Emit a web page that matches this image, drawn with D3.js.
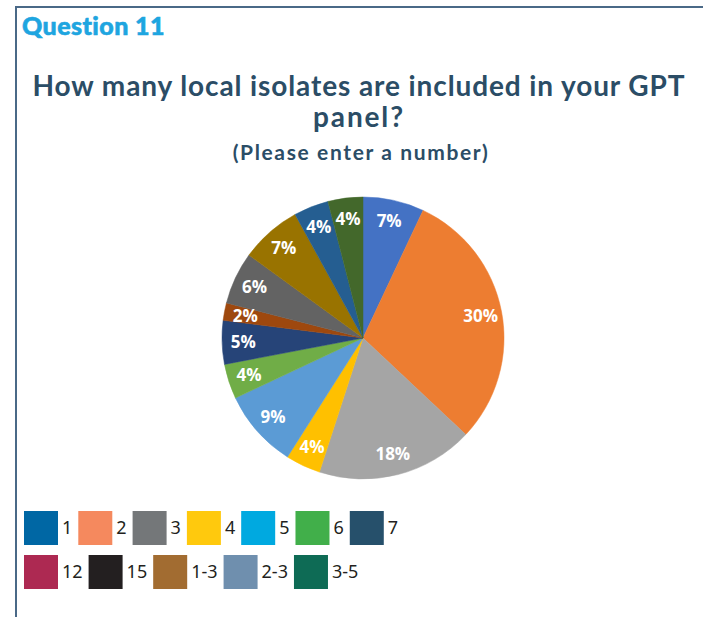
<!DOCTYPE html>
<html>
<head>
<meta charset="utf-8">
<script src="https://cdn.jsdelivr.net/npm/d3@7/dist/d3.min.js"></script>
<style>
  html, body { margin: 0; padding: 0; background: #ffffff; }
  svg { display: block; }
</style>
</head>
<body>
<script>
// Survey answers: number of local isolates in the GPT panel
const categories = ["1", "2", "3", "4", "5", "6", "7", "12", "15", "1-3", "2-3", "3-5"];
const shares = [7, 30, 18, 4, 9, 4, 5, 2, 6, 7, 4, 4];
const sliceColors = ["#4472C4", "#ED7D31", "#A5A5A5", "#FFC000", "#5B9BD5", "#70AD47",
                     "#264478", "#9E480E", "#636363", "#997300", "#255E91", "#43682B"];
const legendColors = ["#0067A4", "#F5895E", "#747779", "#FFC90D", "#00A9E0", "#41AF4A",
                      "#26506B", "#AD2952", "#231F20", "#A26C31", "#6F8FAE", "#0E6B55"];
const legendRows = [["1", "2", "3", "4", "5", "6", "7"], ["12", "15", "1-3", "2-3", "3-5"]];

const W = 703, H = 617;
const svg = d3.select("body").append("svg").attr("width", W).attr("height", H);

// Panel frame (top and left rules)
const frameColor = "#4A6987";
svg.append("line").attr("x1", 16).attr("y1", 7).attr("x2", W).attr("y2", 7)
  .attr("stroke", frameColor).attr("stroke-width", 2);
svg.append("line").attr("x1", 16).attr("y1", 6).attr("x2", 16).attr("y2", H)
  .attr("stroke", frameColor).attr("stroke-width", 2);

// Spread a text's letters so that it spans the given width
function fitWidth(sel, target) {
  const w = sel.node().getComputedTextLength();
  const n = sel.text().length;
  if (n > 1) sel.attr("letter-spacing", (target - w) / (n - 1));
}

const heading = svg.append("text")
  .attr("x", 22).attr("y", 35)
  .attr("font-family", "Lato, 'Open Sans', sans-serif")
  .attr("font-weight", 900).attr("font-size", 25)
  .attr("fill", "#1EA5E0")
  .attr("stroke", "#1EA5E0").attr("stroke-width", 0.6)
  .text("Question 11");
fitWidth(heading, 143);

const titleColor = "#2B4D66";
const t1 = svg.append("text")
  .attr("x", 359).attr("y", 96).attr("text-anchor", "middle")
  .attr("font-family", "Lato, 'Open Sans', sans-serif")
  .attr("font-weight", 700).attr("font-size", 28)
  .attr("fill", titleColor)
  .text("How many local isolates are included in your GPT");
fitWidth(t1, 652);
const t2 = svg.append("text")
  .attr("x", 359).attr("y", 127).attr("text-anchor", "middle")
  .attr("font-family", "Lato, 'Open Sans', sans-serif")
  .attr("font-weight", 700).attr("font-size", 28)
  .attr("fill", titleColor)
  .text("panel?");
fitWidth(t2, 90);
const sub = svg.append("text")
  .attr("x", 361).attr("y", 160).attr("text-anchor", "middle")
  .attr("font-family", "Lato, 'Open Sans', sans-serif")
  .attr("font-weight", 700).attr("font-size", 21)
  .attr("fill", titleColor)
  .text("(Please enter a number)");
fitWidth(sub, 255);

// Pie
const data = categories.map((c, i) => ({ category: c, value: shares[i], color: sliceColors[i] }));
const cx = 363, cy = 338, radius = 141;
const pie = d3.pie().sort(null).value(d => d.value);
const arcs = pie(data);
const arc = d3.arc().innerRadius(0).outerRadius(radius);
const labelArc = d3.arc().innerRadius(radius * 0.85).outerRadius(radius * 0.85);

const g = svg.append("g").attr("transform", `translate(${cx},${cy})`);
g.selectAll("path.slice").data(arcs).join("path")
  .attr("class", "slice")
  .attr("d", arc)
  .attr("fill", d => d.data.color)
  .attr("stroke", d => d.data.color)
  .attr("stroke-width", 0.5);

g.selectAll("text.value").data(arcs).join("text")
  .attr("class", "value")
  .attr("transform", d => `translate(${labelArc.centroid(d)})`)
  .attr("text-anchor", "middle")
  .attr("dy", "0.36em")
  .attr("font-family", "'Open Sans', 'Noto Sans', sans-serif")
  .attr("font-weight", 700).attr("font-size", 17)
  .attr("fill", "#ffffff")
  .text(d => d.data.value + "%");

// Legend, laid out as flowing rows
const colorOf = new Map(categories.map((c, i) => [c, legendColors[i]]));
const sw = 34, rowTops = [511, 555];
legendRows.forEach((row, r) => {
  let x = 24;
  row.forEach(cat => {
    const item = svg.append("g").attr("transform", `translate(${x},${rowTops[r]})`);
    item.append("rect").attr("width", sw).attr("height", sw).attr("fill", colorOf.get(cat));
    const txt = item.append("text")
      .attr("x", sw + 4).attr("y", sw / 2).attr("dy", "0.36em")
      .attr("font-family", "'Noto Sans', sans-serif")
      .attr("font-size", 18).attr("fill", "#231F20")
      .text(cat);
    x += sw + 4 + txt.node().getComputedTextLength() + 6;
  });
});
</script>
</body>
</html>
